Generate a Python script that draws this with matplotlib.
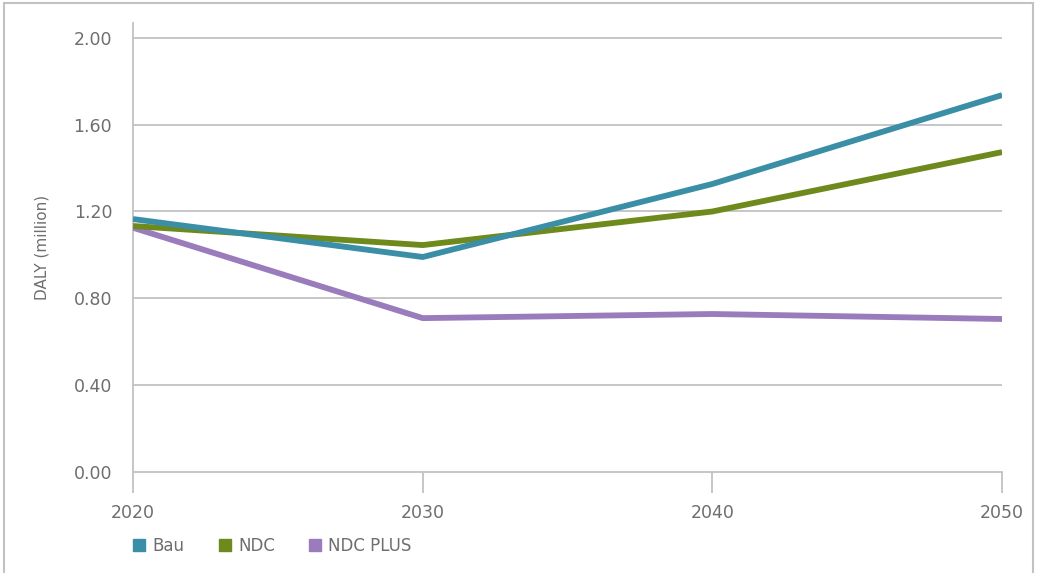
import matplotlib.pyplot as plt
from matplotlib.patches import Rectangle

# DALY projections (million) by scenario
years = [2020, 2030, 2040, 2050]
bau = [1.165, 0.99, 1.327, 1.737]
ndc = [1.133, 1.045, 1.20, 1.474]
ndc_plus = [1.125, 0.708, 0.727, 0.704]
yticks = [0.00, 0.40, 0.80, 1.20, 1.60, 2.00]

c_bau = '#3a8ea6'
c_ndc = '#6e891c'
c_plus = '#9a7cbc'
grey_txt = '#6d6e71'
grey_line = '#c2c2c6'

plt.rcParams['font.family'] = ['DejaVu Sans']

fig = plt.figure(figsize=(10.37, 5.73), dpi=100)
ax = fig.add_axes([0.1283, 0.177, 0.838, 0.783])

# outer frame, open at the bottom
fig.patches.append(Rectangle((4/1037, -0.05), 1029/1037, 1 - 3/573 + 0.05,
                             transform=fig.transFigure, fill=False,
                             edgecolor=grey_line, lw=1.5))

for v in yticks[1:]:
    ax.axhline(v, color=grey_line, lw=1.3, zorder=1)

ax.plot(years, ndc_plus, color=c_plus, lw=4.2, solid_capstyle='butt', zorder=3, label='NDC PLUS')
ax.plot(years, ndc, color=c_ndc, lw=4.2, solid_capstyle='butt', zorder=4, label='NDC')
ax.plot(years, bau, color=c_bau, lw=4.2, solid_capstyle='butt', zorder=5, label='Bau')

ax.set_xlim(2020, 2050)
ax.set_ylim(0, 2.07)
ax.set_xticks(years)
ax.set_yticks(yticks)
ax.set_yticklabels(['%.2f' % v for v in yticks])

for s in ['top', 'right']:
    ax.spines[s].set_visible(False)
for s in ['left', 'bottom']:
    ax.spines[s].set_color(grey_line)
    ax.spines[s].set_linewidth(1.3)

ax.tick_params(axis='x', length=15, width=1.3, color=grey_line, pad=8,
               labelsize=12.5, labelcolor=grey_txt)
ax.tick_params(axis='y', length=0, pad=15, labelsize=12.5, labelcolor=grey_txt)
ax.set_ylabel('DALY (million)', color=grey_txt, fontsize=11, labelpad=17)

handles, labels = ax.get_legend_handles_labels()
order = [2, 1, 0]
sq = [plt.Line2D([], [], marker='s', ls='none', markersize=9,
                 color=handles[i].get_color()) for i in order]
leg = fig.legend(sq, [labels[i] for i in order], loc='lower left',
                 bbox_to_anchor=(0.112, 0.005), ncol=3, frameon=False,
                 fontsize=12, handletextpad=0.3, columnspacing=1.9,
                 handlelength=1.0)
for t in leg.get_texts():
    t.set_color(grey_txt)

fig.savefig('out.png', dpi=100)
